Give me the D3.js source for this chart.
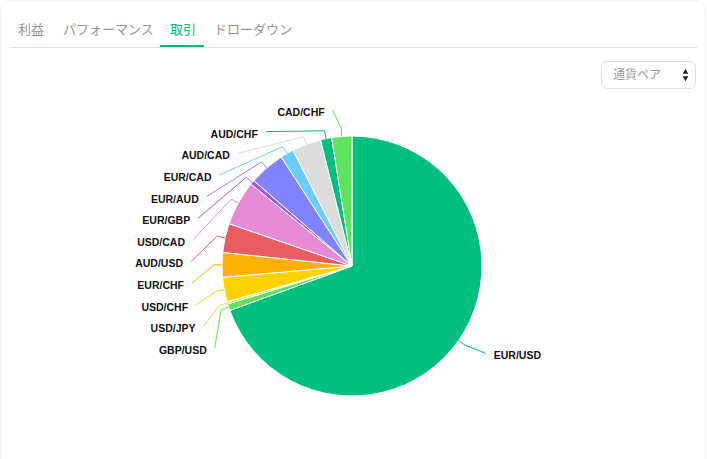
<!DOCTYPE html>
<html><head><meta charset="utf-8">
<script src="https://cdn.jsdelivr.net/npm/d3@7"></script>
<style>html,body{margin:0;padding:0;background:#fff;overflow:hidden;} svg{display:block;}</style>
</head><body>
<svg id="c" width="707" height="459"></svg>
<script>
// ---- data ----
const tabs = ["利益", "パフォーマンス", "取引", "ドローダウン"];
const activeTab = "取引";
const selectLabel = "通貨ペア";
const pairs = ["EUR/USD","GBP/USD","USD/JPY","USD/CHF","EUR/CHF","AUD/USD","USD/CAD","EUR/GBP","EUR/AUD","EUR/CAD","AUD/CAD","AUD/CHF","CAD/CHF"];
const trades = [250, 3, 1, 11, 11, 13, 20, 2, 16, 6, 13, 5, 9];
const palette = ["#00bf80","#5ee35e","#c5e84e","#ffd200","#ffb000","#e85d5f","#e88bd7","#a855e6","#8282fd","#6acdfd","#dcdcdc"];

// ---- layout ----
const W = 707, H = 459;
const svg = d3.select("#c");
const cjk = "'Noto Sans CJK JP','Noto Sans',sans-serif";

// card
svg.append("rect").attr("x", 0.5).attr("y", 0.5).attr("width", W - 2).attr("height", H + 20)
  .attr("rx", 10).attr("fill", "#fff").attr("stroke", "#f1f1f1");

// tabs
const tabX = [18, 63, 170, 214];
const tabG = svg.append("g");
tabs.forEach((t, i) => {
  const txt = tabG.append("text").attr("x", tabX[i]).attr("y", 34)
    .attr("font-family", cjk).attr("font-size", 13)
    .attr("fill", t === activeTab ? "#00b97e" : "#959595").text(t);
  if (t === activeTab) {
    const w = txt.node().getComputedTextLength();
    tabG.append("rect").attr("x", tabX[i] - 10).attr("y", 45).attr("width", w + 18).attr("height", 2.5).attr("fill", "#00b97e");
  }
});
svg.append("line").attr("x1", 9).attr("x2", 697).attr("y1", 47.5).attr("y2", 47.5).attr("stroke", "#dcdce6");

// select box
const sel = svg.append("g");
sel.append("rect").attr("x", 601.5).attr("y", 61.5).attr("width", 94).attr("height", 27).attr("rx", 6)
  .attr("fill", "#fff").attr("stroke", "#dedede");
sel.append("text").attr("x", 613).attr("y", 79).attr("font-family", cjk).attr("font-size", 12)
  .attr("fill", "#9a9a9a").text(selectLabel);
sel.append("path").attr("d", d3.symbol(d3.symbolTriangle, 14)()).attr("transform", "translate(685.5,72)").attr("fill", "#222");
sel.append("path").attr("d", d3.symbol(d3.symbolTriangle, 14)()).attr("transform", "translate(685.5,78) rotate(180)").attr("fill", "#222");

// pie
const cx = 352, cy = 266, R = 130;
const data = pairs.map((p, i) => ({ name: p, v: trades[i] }));
const color = d3.scaleOrdinal().domain(pairs).range(palette);
const pie = d3.pie().sort(null).value(d => d.v).startAngle(0).endAngle(2 * Math.PI);
const arcs = pie(data);
const arc = d3.arc().innerRadius(0).outerRadius(R);
const g = svg.append("g").attr("transform", `translate(${cx},${cy})`);
g.selectAll("path.s").data(arcs).join("path").attr("class", "s")
  .attr("d", arc).attr("fill", d => color(d.data.name))
  .attr("stroke", "#fff").attr("stroke-width", 1);

// labels
const len1 = 24, turn = 8, len2 = 7, gap = 8, rB = 155.5;
const rA = R + len1;
const pt = (a, r) => [cx + r * Math.sin(a), cy - r * Math.cos(a)];
const items = arcs.map(d => {
  const a = (d.startAngle + d.endAngle) / 2;
  return { d, a, name: d.data.name, left: Math.sin(a) < 0, ny: pt(a, rA)[1] };
});
const leftItems = items.filter(o => o.left).sort((p, q) => p.ny - q.ny);
const yLeft = d3.scalePoint().domain(leftItems.map(o => o.name)).range([111, 349]);
items.forEach(o => {
  o.y = o.left ? yLeft(o.name) : o.ny;
  const dy = o.y - cy;
  const dx = rA * Math.sqrt(Math.max(0, 1 - dy * dy / (rB * rB)));
  const dir = o.left ? -1 : 1;
  o.ex = cx + dir * (dx + len2);
  o.tx = o.ex + dir * gap;
});
const line = d3.line();
const lg = svg.append("g");
lg.selectAll("path").data(items).join("path")
  .attr("d", o => line([pt(o.a, R), pt(o.a, R + turn), [o.ex, o.y - 1]]))
  .attr("fill", "none").attr("stroke", o => color(o.name)).attr("stroke-width", 1);
lg.selectAll("text").data(items).join("text")
  .attr("x", o => o.tx).attr("y", o => o.y + 1)
  .attr("text-anchor", o => o.left ? "end" : "start")
  .attr("dominant-baseline", "central")
  .attr("font-family", "'Liberation Sans', Arial, sans-serif").attr("font-weight", "bold")
  .attr("font-size", 10.5).attr("fill", "#111").text(o => o.name);
</script>
</body></html>
